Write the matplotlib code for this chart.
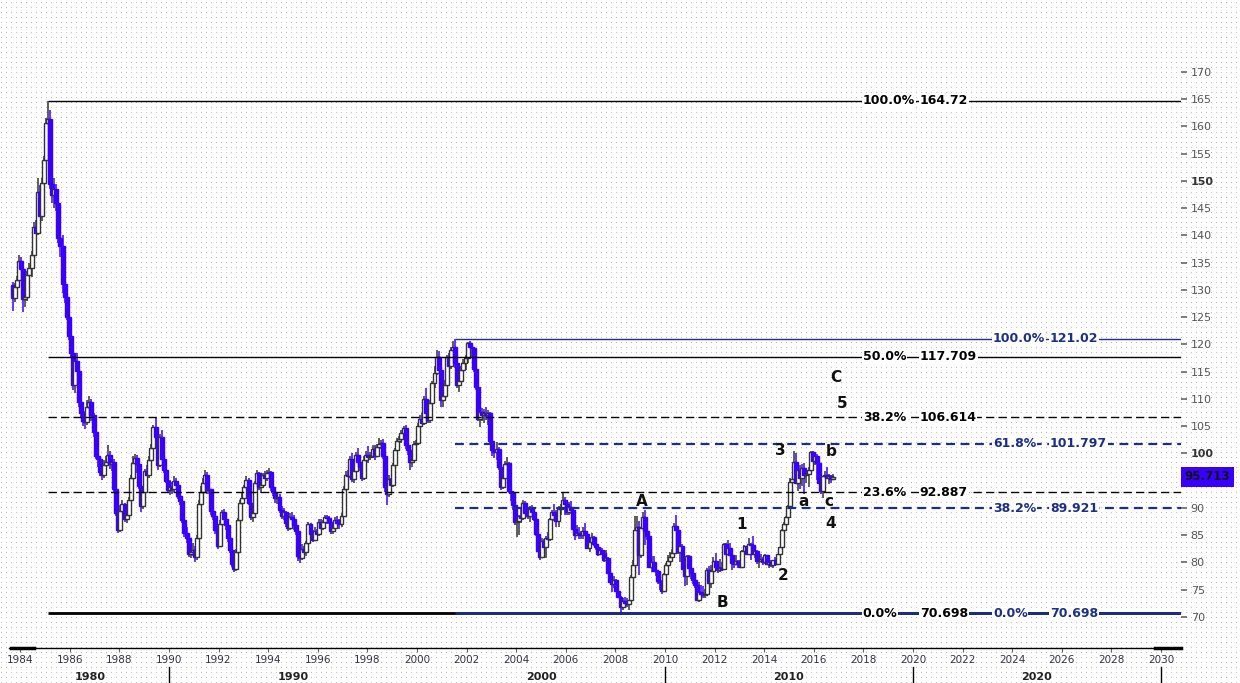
import matplotlib
matplotlib.use("Agg")
import matplotlib.pyplot as plt
import matplotlib.transforms as mtransforms
import numpy as np
import pandas as pd

# monthly USD index candles, Sep 1983 .. Oct 2016 (open = previous close)
first_open = 130.9
closes = [
    128.5, 130.6, 131.8, 135.2,
    133.8, 128.3, 128.6, 132.7, 134.0, 136.4, 141.5, 140.4, 148.0, 143.6, 149.6, 153.8,
    160.6, 161.3, 149.4, 147.4, 148.5, 146.0, 139.5, 138.0, 131.0, 128.7, 125.0, 121.5,
    118.5, 112.5, 117.0, 115.2, 109.5, 107.5, 106.0, 105.8, 108.5, 109.5, 107.0, 104.0,
    99.5, 99.0, 96.6, 96.0, 97.8, 98.5, 99.8, 98.0, 98.5, 93.5, 89.0, 86.0,
    89.5, 90.8, 88.0, 88.8, 91.5, 95.5, 98.2, 99.2, 98.0, 94.0, 90.4, 93.0,
    96.8, 96.0, 98.8, 101.0, 104.8, 103.0, 97.8, 103.0, 99.0, 97.0, 95.0, 93.3,
    93.8, 93.5, 95.0, 94.2, 92.2, 91.2, 87.8, 85.5, 84.5, 81.5, 82.0, 82.3,
    81.0, 84.5, 90.8, 93.0, 94.6, 96.0, 93.3, 93.5, 89.5, 88.5, 86.0, 83.0,
    87.0, 89.3, 88.0, 86.8, 84.5, 82.3, 79.8, 78.8, 82.0, 87.8, 91.0, 91.8,
    93.8, 95.1, 91.0, 88.3, 89.0, 94.6, 96.4, 93.8, 94.3, 96.0, 95.5, 96.5,
    96.6, 93.8, 93.0, 91.8, 92.0, 89.6, 88.6, 89.2, 87.2, 86.3, 88.3, 88.0,
    86.8, 85.8, 81.2, 80.8, 82.5, 81.9, 83.5, 87.0, 85.2, 84.2, 85.8, 85.2,
    87.5, 86.3, 87.4, 88.3, 88.1, 87.5, 85.8, 86.3, 87.8, 87.2, 87.0, 88.5,
    93.5, 96.0, 95.8, 99.0, 95.3, 96.7, 99.8, 98.5, 97.6, 95.5, 98.8, 99.7,
    99.4, 99.5, 100.9, 99.5, 101.2, 101.8, 101.9, 99.5, 93.8, 92.5, 95.3, 94.2,
    97.8, 100.6, 102.3, 102.6, 103.8, 104.6, 101.5, 100.6, 98.5, 98.8, 101.8, 101.9,
    105.0, 106.3, 105.6, 110.0, 107.5, 106.1, 109.2, 112.9, 114.8, 117.7, 115.3, 109.8,
    110.5, 112.6, 117.7, 116.0, 119.0, 119.6, 116.6, 112.5, 113.2, 115.3, 116.6, 117.5,
    120.2, 119.5, 119.3, 115.5, 112.1, 106.4, 107.6, 107.0, 107.4, 107.0, 107.5, 102.2,
    100.6, 100.2, 100.8, 97.6, 93.9, 95.5, 98.0, 98.3, 93.2, 92.8, 90.6, 87.4,
    87.6, 88.5, 88.1, 91.0, 89.0, 88.6, 89.9, 89.3, 88.0, 85.2, 82.1, 81.0,
    83.9, 82.8, 84.5, 84.3, 87.9, 89.3, 88.8, 87.7, 89.8, 90.0, 91.4, 90.8,
    89.3, 90.1, 89.6, 86.1, 85.0, 85.5, 85.3, 85.0, 85.8, 85.2, 82.6, 83.7,
    84.7, 83.4, 82.9, 81.6, 82.3, 81.8, 80.5, 80.9, 78.0, 76.5, 76.1, 76.7,
    74.8, 73.6, 71.9, 73.0, 72.6, 72.4, 73.1, 77.4, 79.5, 85.9, 86.5, 81.3,
    86.3, 88.4, 85.7, 84.8, 79.2, 80.1, 78.5, 78.4, 76.6, 76.5, 74.8, 77.9,
    79.5, 80.3, 81.0, 81.8, 86.7, 85.9, 81.9, 83.1, 78.8, 77.6, 81.2, 79.0,
    78.0, 76.7, 75.9, 73.1, 74.6, 74.3, 74.0, 74.2, 78.6, 76.2, 78.4, 80.2,
    79.2, 78.6, 79.0, 78.8, 83.3, 81.6, 82.6, 81.4, 79.9, 79.8, 80.2, 79.8,
    79.2, 82.1, 83.0, 81.6, 83.3, 83.2, 81.5, 82.1, 80.2, 80.2, 80.7, 80.0,
    81.3, 79.7, 80.1, 79.5, 80.4, 79.8, 81.5, 82.8, 86.0, 87.0, 88.4, 90.3,
    94.8, 95.3, 98.4, 94.6, 96.9, 95.5, 97.3, 96.0, 96.3, 97.0, 100.2, 98.6,
    99.6, 98.2, 94.6, 93.1, 95.9, 96.1, 95.5, 95.9, 95.4, 95.713,
]
highs = [
    131.5, 131.2, 132.5, 136.4,
    136.0, 134.5, 130.2, 133.5, 135.0, 137.2, 142.5, 142.8, 150.5, 149.2, 150.5, 154.5,
    161.5, 164.72, 163.0, 152.0, 150.5, 149.5, 146.5, 141.5, 140.0, 132.0, 129.0, 125.5,
    122.6, 119.0, 118.0, 118.5, 116.0, 111.0, 109.0, 107.8, 109.8, 110.5, 110.0, 107.5,
    104.5, 101.0, 99.5, 97.5, 98.8, 99.5, 101.5, 100.5, 99.5, 99.0, 93.8, 89.5,
    90.5, 91.4, 91.0, 89.8, 92.0, 96.0, 99.5, 99.9, 99.8, 98.5, 94.5, 93.8,
    97.2, 97.8, 99.5, 101.8, 105.2, 106.5, 103.5, 103.5, 104.3, 99.8, 97.5, 95.6,
    95.2, 94.8, 95.8, 95.5, 94.8, 93.0, 91.5, 88.2, 86.5, 85.0, 83.2, 83.5,
    83.0, 85.0, 91.5, 94.0, 95.5, 96.9, 96.6, 95.5, 93.5, 90.5, 88.8, 86.5,
    87.8, 89.6, 89.8, 88.6, 87.5, 85.0, 82.8, 80.5, 82.5, 88.2, 91.5, 92.8,
    94.3, 95.8, 95.5, 91.5, 90.2, 95.0, 97.0, 96.6, 95.5, 96.5, 96.8, 97.0,
    97.3, 96.8, 94.5, 93.5, 92.8, 92.5, 90.3, 90.0, 89.5, 87.6, 89.0, 89.2,
    88.8, 87.5, 86.2, 82.5, 83.3, 83.0, 84.0, 87.5, 87.3, 86.0, 86.5, 86.2,
    88.0, 88.0, 87.8, 88.8, 88.7, 88.5, 87.9, 87.0, 88.3, 88.5, 88.0, 89.0,
    94.0, 96.8, 97.0, 99.5, 100.0, 97.5, 100.2, 101.0, 99.5, 98.0, 99.5, 100.5,
    101.3, 100.3, 101.5, 101.5, 101.8, 102.8, 102.5, 102.6, 99.8, 94.5, 96.0, 95.5,
    98.2, 101.0, 102.8, 103.2, 104.3, 105.0, 105.2, 102.3, 101.0, 100.5, 102.2, 102.5,
    105.5, 107.0, 107.5, 110.5, 112.0, 108.5, 109.8, 113.3, 116.0, 119.0, 118.8, 115.5,
    112.3, 113.5, 118.0, 118.5, 119.5, 120.6, 121.02, 117.2, 114.5, 116.0, 117.3, 118.0,
    120.5, 120.6, 120.0, 119.6, 116.0, 112.4, 108.8, 108.3, 108.2, 108.5, 108.0, 107.6,
    102.6, 101.5, 102.1, 101.2, 97.7, 96.8, 98.7, 99.3, 98.5, 94.0, 93.2, 90.7,
    88.3, 88.8, 90.0, 91.5, 91.3, 89.8, 90.3, 90.5, 89.7, 88.8, 85.4, 82.8,
    84.5, 84.4, 84.8, 85.6, 88.1, 89.7, 90.8, 89.7, 90.3, 90.8, 92.7, 92.0,
    91.4, 91.1, 91.2, 90.1, 86.8, 86.8, 86.6, 85.7, 86.6, 87.2, 85.5, 84.0,
    85.4, 84.9, 84.0, 83.0, 82.7, 82.7, 82.0, 82.2, 81.0, 78.2, 77.0, 77.5,
    77.0, 76.1, 73.8, 73.5, 73.7, 73.5, 73.2, 77.7, 80.4, 88.5, 88.5, 87.6,
    86.5, 89.2, 89.6, 87.5, 85.0, 81.2, 81.1, 79.4, 78.6, 77.3, 76.8, 78.1,
    79.9, 81.3, 82.0, 82.5, 87.2, 88.7, 86.0, 83.7, 83.4, 79.0, 81.4, 81.4,
    81.1, 78.4, 77.7, 76.0, 76.4, 75.8, 75.6, 75.1, 79.0, 79.3, 79.5, 81.0,
    81.8, 79.6, 80.7, 80.0, 83.5, 83.6, 84.1, 83.6, 81.6, 80.3, 81.3, 80.4,
    80.4, 82.3, 83.2, 83.1, 84.5, 83.5, 84.8, 82.4, 82.3, 80.5, 81.5, 81.0,
    81.5, 81.4, 80.6, 80.4, 80.5, 81.0, 81.6, 82.9, 86.1, 87.5, 88.6, 90.5,
    95.5, 95.4, 100.4, 100.1, 97.4, 97.8, 98.0, 98.3, 96.8, 97.6, 100.5, 100.5,
    99.9, 99.9, 98.7, 95.0, 95.9, 96.7, 97.6, 96.3, 96.0, 96.3,
]
lows = [
    126.2, 127.8, 129.8, 131.2,
    132.5, 126.0, 126.8, 128.0, 131.5, 132.4, 135.5, 138.8, 140.0, 142.4, 142.6, 149.0,
    152.5, 157.0, 148.5, 146.0, 145.0, 144.5, 138.5, 136.0, 129.5, 127.5, 124.5, 120.8,
    117.5, 111.6, 111.0, 114.5, 108.5, 106.5, 105.0, 104.5, 105.2, 106.5, 106.0, 103.0,
    99.0, 97.5, 95.8, 95.1, 95.5, 96.5, 97.8, 97.2, 96.8, 93.0, 88.5, 85.4,
    85.6, 88.5, 87.5, 87.2, 88.0, 91.0, 95.0, 97.2, 96.5, 93.5, 89.3, 89.8,
    92.5, 95.0, 95.5, 97.8, 100.5, 101.8, 97.0, 97.5, 98.5, 96.5, 94.5, 92.8,
    92.3, 92.5, 93.0, 93.5, 91.6, 90.5, 87.3, 84.6, 83.6, 81.0, 80.8, 81.2,
    80.1, 80.5, 84.0, 90.0, 92.0, 93.5, 92.6, 92.5, 88.8, 87.8, 85.2, 82.5,
    82.8, 86.5, 87.2, 86.0, 83.8, 81.8, 79.2, 78.3, 78.4, 81.5, 87.0, 89.5,
    90.8, 92.5, 90.5, 87.8, 87.5, 88.8, 93.5, 93.3, 92.8, 93.9, 94.8, 95.0,
    95.5, 93.2, 92.2, 91.0, 90.8, 89.0, 88.0, 87.8, 86.5, 85.8, 86.0, 87.0,
    86.0, 85.0, 80.2, 79.9, 80.5, 81.0, 81.2, 83.0, 84.8, 83.8, 84.0, 84.5,
    84.8, 85.5, 86.0, 86.8, 87.0, 87.0, 85.3, 85.2, 86.0, 86.5, 86.2, 86.5,
    88.3, 93.0, 94.6, 95.5, 94.8, 94.5, 96.3, 97.9, 96.8, 95.0, 95.2, 98.5,
    98.2, 98.8, 99.2, 98.8, 99.3, 100.8, 100.8, 98.9, 93.0, 90.5, 92.0, 93.5,
    93.8, 97.5, 100.0, 101.5, 102.0, 103.0, 100.9, 99.8, 97.0, 97.5, 98.2, 100.8,
    101.5, 104.0, 104.8, 105.2, 106.8, 105.5, 105.5, 108.5, 112.0, 114.3, 114.5, 108.5,
    108.6, 109.7, 112.0, 115.2, 115.5, 117.8, 115.6, 112.0, 111.2, 112.5, 114.5, 115.3,
    116.5, 118.5, 117.5, 115.0, 111.7, 106.0, 104.8, 106.0, 105.5, 106.2, 105.2, 101.8,
    99.5, 99.2, 98.8, 97.0, 93.3, 93.5, 94.8, 96.5, 92.8, 91.3, 89.6, 86.8,
    84.7, 85.0, 87.3, 87.8, 88.6, 88.0, 87.5, 88.5, 87.6, 84.8, 81.9, 80.5,
    80.8, 82.2, 80.9, 83.8, 83.9, 87.3, 87.6, 86.5, 86.6, 88.8, 89.6, 88.8,
    88.7, 88.8, 88.9, 85.9, 84.2, 84.9, 84.4, 84.3, 84.4, 84.9, 82.4, 81.9,
    83.5, 83.0, 82.3, 81.2, 81.4, 81.5, 80.0, 80.2, 77.8, 76.3, 74.5, 75.3,
    74.6, 73.5, 70.698, 71.3, 72.0, 71.8, 71.3, 72.9, 76.0, 79.4, 84.5, 77.7,
    80.9, 85.6, 83.2, 84.2, 79.0, 78.3, 78.3, 77.6, 76.1, 74.9, 74.2, 74.5,
    76.9, 79.2, 79.4, 80.4, 81.3, 84.8, 81.6, 80.1, 78.6, 75.6, 75.8, 78.8,
    76.9, 76.0, 75.3, 72.9, 72.7, 73.5, 73.5, 73.4, 73.9, 75.0, 75.4, 78.1,
    78.9, 78.1, 78.3, 78.6, 78.8, 81.2, 81.6, 81.2, 78.6, 78.9, 79.7, 79.0,
    78.9, 79.2, 81.5, 81.3, 81.6, 80.5, 81.4, 80.8, 79.7, 79.0, 80.1, 79.6,
    79.8, 79.6, 78.9, 79.1, 78.9, 79.7, 79.7, 81.1, 82.6, 84.5, 86.6, 87.6,
    90.3, 93.3, 95.1, 94.4, 93.1, 93.5, 94.0, 92.6, 94.6, 93.8, 96.8, 97.2,
    97.8, 95.2, 94.5, 92.6, 91.9, 93.4, 95.3, 94.4, 94.5, 95.2,
]

# Fibonacci retracements
black_pcts = ["100.0%", "50.0%", "38.2%", "23.6%", "0.0%"]
black_levels = [164.72, 117.709, 106.614, 92.887, 70.698]
blue_pcts = ["100.0%", "61.8%", "38.2%", "0.0%"]
blue_levels = [121.02, 101.797, 89.921, 70.698]

# Elliott wave marks (label, year, price)
wave_text = ["A", "1", "2", "B", "3", "b", "a", "c", "4", "C", "5"]
wave_year = [2009.07, 2013.10, 2014.76, 2012.30, 2014.64, 2016.69, 2015.60, 2016.61, 2016.69, 2016.90, 2017.14]
wave_price = [91.1, 86.9, 77.7, 72.6, 100.6, 100.4, 91.1, 91.1, 87.2, 114.0, 109.2]

year_ticks = list(range(1984, 2031, 2))
decades = [1980, 1990, 2000, 2010, 2020]
decade_marks = [1990, 2010, 2020, 2030]

BLUE = "#3a00ff"
NAVY = "#1c2f86"
XMIN, XMAX = 1983.55, 2030.81
YMIN, YMAX = 64.32, 180.95

dates = pd.date_range("1983-09-01", periods=len(closes), freq="MS")
t = dates.year.to_numpy() + (dates.month.to_numpy() - 0.5) / 12
c = np.array(closes)
o = np.concatenate([[first_open], c[:-1]])
h = np.array(highs)
lo = np.array(lows)
up = c >= o

fig = plt.figure(figsize=(12.4, 6.83), dpi=100)
fig.patch.set_facecolor("white")

# dotted background
bg = fig.add_axes([0, 0, 1, 1], zorder=-5)
tex = np.ones((683, 1240))
tex[2::5, 1::5] = 0.74
bg.imshow(tex, cmap="gray", vmin=0, vmax=1, interpolation="nearest", aspect="auto")
bg.axis("off")

ax = fig.add_axes([9 / 1240, 1 - 648 / 683, 1172 / 1240, 636 / 683])
ax.set_facecolor("none")
ax.set_xlim(XMIN, XMAX)
ax.set_ylim(YMIN, YMAX)

# candles
w = 0.16
ax.vlines(t, lo, h, colors=np.where(up, "#333333", BLUE), linewidth=1.1, zorder=3)
body = np.maximum(np.abs(c - o), 0.15)
ax.bar(t, body, bottom=np.minimum(o, c), width=w,
       color=np.where(up, "white", BLUE), edgecolor=np.where(up, "#333333", BLUE),
       linewidth=1.0, zorder=4)

# fib lines
t_black = t[int(np.argmax(h))]
t_blue = t[int(np.argmin(np.abs(h - blue_levels[0])))]
black_styles = [("-", 1.0), ("-", 1.0), ((0, (6, 3)), 1.0), ((0, (6, 3)), 1.0), ("-", 2.0)]
for lev, (ls, lw) in zip(black_levels, black_styles):
    ax.hlines(lev, t_black, XMAX, colors="black", linestyles=ls, linewidth=lw, zorder=5)
blue_styles = [("-", 1.0), ((0, (4, 2.5)), 1.6), ((0, (4, 2.5)), 1.6), ("-", 2.0)]
for lev, (ls, lw) in zip(blue_levels, blue_styles):
    ax.hlines(lev, t_blue, XMAX, colors=NAVY, linestyles=ls, linewidth=lw, zorder=6)

lab = dict(va="center", ha="left", fontsize=9, fontweight="bold", zorder=8,
           bbox=dict(boxstyle="square,pad=0.05", fc="white", ec="none"))
for p, lev in zip(black_pcts, black_levels):
    ax.text(2017.98, lev, p, color="black", **lab)
    ax.text(2020.28, lev, f"{lev:g}", color="black", **lab)
for p, lev in zip(blue_pcts, blue_levels):
    ax.text(2023.23, lev, p, color=NAVY, **lab)
    ax.text(2025.52, lev, f"{lev:g}", color=NAVY, **lab)

for s, x, y in zip(wave_text, wave_year, wave_price):
    ax.text(x, y, s, ha="center", va="center", fontsize=11, fontweight="bold",
            color="#111111", zorder=9)

# axes styling
for side in ("top", "left", "right"):
    ax.spines[side].set_visible(False)
ax.spines["bottom"].set_color("black")
ax.spines["bottom"].set_linewidth(1)

ax.set_xticks(year_ticks)
ax.set_xticklabels([str(y) for y in year_ticks])
ax.tick_params(axis="x", length=3, color="#666666", labelsize=7.5, labelcolor="#333344", pad=2)

ax.yaxis.tick_right()
yt = list(range(70, 171, 5))
ax.set_yticks(yt)
# the 95 label sits under the last-price box
ax.set_yticklabels(["" if v == 95 else str(v) for v in yt])
ax.tick_params(axis="y", length=4, width=1.2, color="#666666", labelsize=8,
               labelcolor="#555555", pad=3)
for tl in ax.get_yticklabels():
    if tl.get_text() in ("100", "150"):
        tl.set_fontweight("bold")
        tl.set_color("#333333")

blend = mtransforms.blended_transform_factory(ax.transData, ax.transAxes)
edges = [XMIN + 0.1, 1990, 2000, 2010, 2020, 2030]
for d, a, b in zip(decades, edges[:-1], edges[1:]):
    ax.text((a + b) / 2, -0.045, str(d), transform=blend, ha="center", va="center",
            fontsize=8, fontweight="bold", color="#222222")
for d in decade_marks:
    ax.plot([d, d], [-0.03, -0.06], transform=blend, color="black", lw=1, clip_on=False)
ax.plot([XMIN + 0.08, 1984.56], [0, 0], transform=blend, color="black", lw=2.5, clip_on=False)
ax.plot([2029.76, XMAX], [0, 0], transform=blend, color="black", lw=2.5, clip_on=False)

# last price box
ax.text(1.003, c[-1], f"{c[-1]:.3f}", transform=mtransforms.blended_transform_factory(ax.transAxes, ax.transData),
        ha="left", va="center", fontsize=8.5, fontweight="bold", color="#111111", clip_on=False,
        bbox=dict(boxstyle="square,pad=0.3", fc=BLUE, ec="none"), zorder=10)

fig.savefig("out.png", dpi=100)
